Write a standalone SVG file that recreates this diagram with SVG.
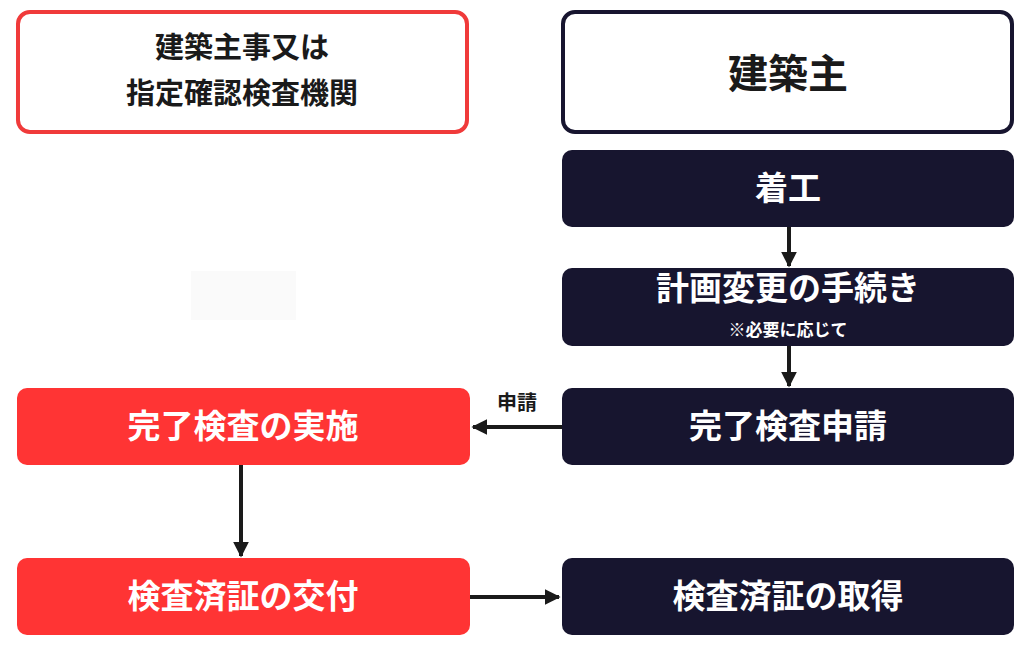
<svg xmlns="http://www.w3.org/2000/svg" width="1024" height="647" viewBox="0 0 1024 647">
<style>
text{font-family:"Noto Sans CJK JP","Noto Sans CJK SC",sans-serif;font-weight:bold;text-anchor:middle}
.d{fill:#17152f}.r{fill:#ff3434}.w{fill:#fff;font-size:33px}
.c{stroke:#1a1a1a;stroke-width:4;fill:none}
</style>
<defs><marker id="a" viewBox="0 0 10 10" refX="9" refY="5" markerWidth="4" markerHeight="4" orient="auto"><path d="M0,0L10,5L0,10z" fill="#1a1a1a"/></marker></defs>
<rect width="1024" height="647" fill="#fff"/>
<rect x="191" y="271" width="105" height="49" fill="#fafafa"/>
<g id="n1"><rect x="18" y="12" width="449" height="120" rx="12" fill="#fff" stroke="#f03a3a" stroke-width="4"/><text x="242" y="58" font-size="29" fill="#1a1a1a">建築主事又は</text><text x="242" y="104" font-size="29" fill="#1a1a1a">指定確認検査機関</text></g>
<g id="n2"><rect x="563" y="12" width="449" height="120" rx="12" fill="#fff" stroke="#17152f" stroke-width="4"/><text x="788" y="88" font-size="40" fill="#1a1a1a">建築主</text></g>
<g id="n3"><rect class="d" x="562" y="150" width="452" height="77" rx="10"/><text class="w" x="788" y="200">着工</text></g>
<g id="n4"><rect class="d" x="562" y="268" width="452" height="78" rx="10"/><text class="w" x="788" y="300" font-size="31">計画変更の手続き</text><text x="788" y="336" font-size="17" fill="#fff">※必要に応じて</text></g>
<g id="n5"><rect class="d" x="562" y="388" width="452" height="77" rx="10"/><text class="w" x="788" y="438">完了検査申請</text></g>
<g id="n6"><rect class="r" x="17" y="388" width="453" height="77" rx="10"/><text class="w" x="243" y="438">完了検査の実施</text></g>
<g id="n7"><rect class="r" x="17" y="558" width="453" height="77" rx="10"/><text class="w" x="243" y="608">検査済証の交付</text></g>
<g id="n8"><rect class="d" x="562" y="558" width="452" height="77" rx="10"/><text class="w" x="788" y="608">検査済証の取得</text></g>
<g id="edges">
<line class="c" x1="789" y1="227" x2="789" y2="266" marker-end="url(#a)"/>
<line class="c" x1="789" y1="346" x2="789" y2="386" marker-end="url(#a)"/>
<line class="c" x1="562" y1="427" x2="473" y2="427" marker-end="url(#a)"/>
<text x="517" y="410" font-size="20" fill="#1a1a1a">申請</text>
<line class="c" x1="241" y1="465" x2="241" y2="556" marker-end="url(#a)"/>
<line class="c" x1="470" y1="597" x2="559" y2="597" marker-end="url(#a)"/>
</g>
</svg>
